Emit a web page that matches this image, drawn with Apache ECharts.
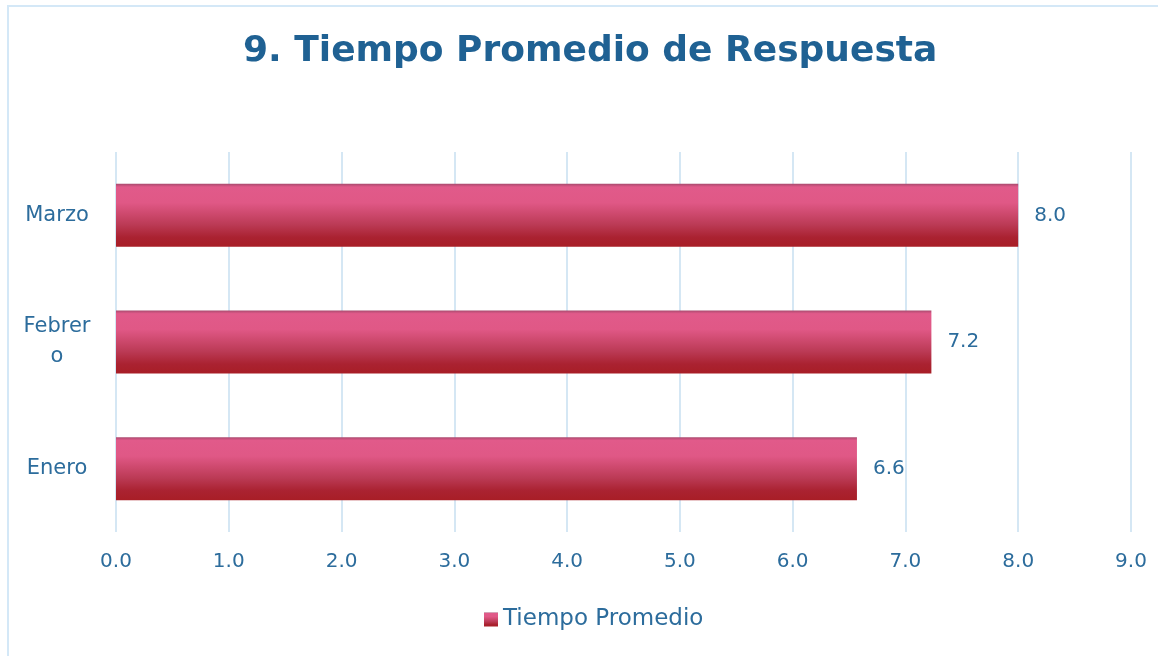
<!DOCTYPE html>
<html>
<head>
<meta charset="utf-8">
<script src="https://cdn.jsdelivr.net/npm/echarts@6/dist/echarts.min.js"></script>
<style>
  html, body { margin: 0; padding: 0; background: #fff; overflow: hidden; }
  #frame { position: absolute; left: 7px; top: 5px; width: 1170px; height: 670px; border: 2px solid #d4e8f7; box-sizing: border-box; }
  #chart { position: absolute; left: 0; top: 0; width: 1158px; height: 656px; }
</style>
</head>
<body>
<div id="frame"></div>
<div id="chart"></div>
<script>
const months = ['Enero', 'Febrero', 'Marzo']
const tiempoPromedio = [6.57, 7.23, 8.0]
const xTicks = [0, 1, 2, 3, 4, 5, 6, 7, 8, 9]

const blue = '#2c6c9c'
const font = '"DejaVu Sans", sans-serif'

const barFill = new echarts.graphic.LinearGradient(0, 0, 0, 1, [
  { offset: 0, color: '#a94a6e' },
  { offset: 0.05, color: '#e15a8a' },
  { offset: 0.3, color: '#e05886' },
  { offset: 0.65, color: '#bb3a55' },
  { offset: 0.85, color: '#aa2231' },
  { offset: 1, color: '#a81e26' },
])

const chart = echarts.init(document.getElementById('chart'))
chart.setOption({
  backgroundColor: 'transparent',
  title: {
    text: '9. Tiempo Promedio de Respuesta',
    left: 238,
    top: 29,
    textStyle: { color: '#1f6193', fontSize: 36, fontWeight: 'bold', fontFamily: font },
  },
  legend: {
    bottom: 20,
    left: 479,
    icon: 'rect',
    itemWidth: 14,
    itemHeight: 14,
    itemGap: 6,
    textStyle: { color: blue, fontSize: 23, fontFamily: font },
  },
  grid: { left: 116, right: 27, top: 152, bottom: 124 },
  xAxis: {
    type: 'value',
    min: xTicks[0],
    max: xTicks[xTicks.length - 1],
    interval: 1,
    axisLine: { show: false },
    axisTick: { show: false },
    axisLabel: { color: blue, fontSize: 20, fontFamily: font, margin: 20, formatter: v => v.toFixed(1) },
    splitLine: { lineStyle: { color: '#d5e7f4', width: 2 } },
  },
  yAxis: {
    type: 'category',
    data: months,
    axisLine: { show: false },
    axisTick: { show: false },
    axisLabel: {
      color: blue, fontSize: 21, fontFamily: font, margin: 59, align: 'center',
      width: 72, overflow: 'breakAll', lineHeight: 30,
    },
  },
  series: [
    {
      name: 'Tiempo Promedio',
      type: 'bar',
      data: tiempoPromedio,
      barWidth: 63,
      itemStyle: { color: barFill },
      label: {
        show: true,
        position: 'right',
        distance: 16,
        color: blue,
        fontSize: 20,
        fontFamily: font,
        formatter: p => p.value.toFixed(1),
      },
    },
  ],
})
</script>
</body>
</html>
